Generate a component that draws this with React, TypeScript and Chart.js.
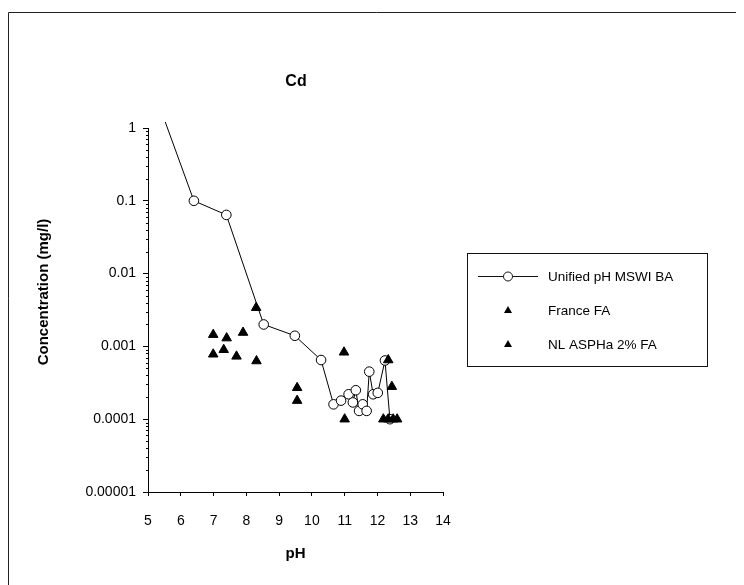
import React, { useEffect, useRef } from "react";
import { Chart, registerables } from "chart.js";

Chart.register(...registerables);

// Cd leaching concentration versus pH
const unifiedPH = [5.35, 6.4, 7.39, 8.53, 9.48, 10.28, 10.66, 10.89, 11.12, 11.25, 11.34, 11.44, 11.55, 11.67, 11.75, 11.87, 12.01, 12.23, 12.38];
const unifiedConc = [2.0, 0.1, 0.064, 0.002, 0.0014, 0.00065, 0.00016, 0.00018, 0.00022, 0.00017, 0.00025, 0.00013, 0.00016, 0.00013, 0.00045, 0.00022, 0.00023, 0.00064, 0.0001];

const francePH = [6.99, 7.4, 7.9, 7.31, 6.99, 7.7, 8.31, 8.3];
const franceConc = [0.00145, 0.0013, 0.00155, 0.0009, 0.00078, 0.00073, 0.00063, 0.0034];

const nlPH = [9.55, 9.55, 10.98, 11.0, 12.33, 12.44, 12.18, 12.33, 12.48, 12.6];
const nlConc = [0.00027, 0.00018, 0.00083, 0.0001, 0.00065, 0.00028, 0.0001, 0.0001, 0.0001, 0.0001];

const seriesNames = ["Unified pH MSWI BA", "France FA", "NL ASPHa 2% FA"];
const yTickValues = [0.00001, 0.0001, 0.001, 0.01, 0.1, 1];
const yTickLabels = ["0.00001", "0.0001", "0.001", "0.01", "0.1", "1"];
const xTickValues = [5, 6, 7, 8, 9, 10, 11, 12, 13, 14];

const chartTitle = "Cd";
const xTitle = "pH";
const yTitle = "Concentration (mg/l)";

const FONT = "'Liberation Sans', Arial, sans-serif";
const W = 736;
const H = 577;

const toPoints = (xs: number[], ys: number[]) => xs.map((x, i) => ({ x, y: ys[i] }));

// Frame, titles, minor ticks and the boxed legend drawn directly on the canvas
const decorations = {
  id: "decorations",
  afterDraw(chart: any) {
    const ctx = chart.ctx as CanvasRenderingContext2D;
    const area = chart.chartArea;
    const yScale = chart.scales.y;
    ctx.save();

    // outer frame
    ctx.strokeStyle = "#222";
    ctx.lineWidth = 1;
    ctx.beginPath();
    ctx.moveTo(0.5, H);
    ctx.lineTo(0.5, 4.5);
    ctx.lineTo(W, 4.5);
    ctx.stroke();

    // minor ticks on the log axis
    ctx.strokeStyle = "#000";
    ctx.beginPath();
    for (let e = -5; e < 0; e++) {
      for (let m = 2; m <= 9; m++) {
        const py = Math.round(yScale.getPixelForValue(m * Math.pow(10, e))) + 0.5;
        ctx.moveTo(area.left - 2, py);
        ctx.lineTo(area.left, py);
      }
    }
    ctx.stroke();

    ctx.fillStyle = "#000";
    ctx.textAlign = "center";
    ctx.textBaseline = "middle";

    ctx.font = `bold 16px ${FONT}`;
    ctx.fillText(chartTitle, 288, 74);

    ctx.font = `bold 15px ${FONT}`;
    ctx.fillText(xTitle, (area.left + area.right) / 2, 546);

    ctx.save();
    ctx.translate(36, (area.top + area.bottom) / 2 - 18);
    ctx.rotate(-Math.PI / 2);
    ctx.fillText(yTitle, 0, 0);
    ctx.restore();

    // legend
    const lx = 459.5, ly = 245.5, lw = 240, lh = 113;
    ctx.strokeStyle = "#111";
    ctx.strokeRect(lx, ly, lw, lh);
    const rows = [268, 302, 336];
    const sampleX = 500;
    ctx.font = `13.5px ${FONT}`;
    ctx.textAlign = "left";
    rows.forEach((ry, i) => {
      if (i === 0) {
        ctx.beginPath();
        ctx.moveTo(470, ry + 0.5);
        ctx.lineTo(530, ry + 0.5);
        ctx.stroke();
        ctx.beginPath();
        ctx.arc(sampleX, ry + 0.5, 4.5, 0, Math.PI * 2);
        ctx.fillStyle = "#fff";
        ctx.fill();
        ctx.stroke();
      } else {
        ctx.fillStyle = "#000";
        ctx.beginPath();
        ctx.moveTo(sampleX, ry - 4);
        ctx.lineTo(sampleX + 4, ry + 3);
        ctx.lineTo(sampleX - 4, ry + 3);
        ctx.closePath();
        ctx.fill();
      }
      ctx.fillStyle = "#000";
      ctx.fillText(seriesNames[i], 540, ry + 1);
    });
    ctx.restore();
  },
};

export default function App() {
  const ref = useRef<HTMLCanvasElement | null>(null);

  useEffect(() => {
    if (!ref.current) return;
    const chart = new Chart(ref.current, {
      type: "scatter",
      data: {
        datasets: [
          {
            label: seriesNames[2],
            data: toPoints(nlPH, nlConc),
            pointStyle: "triangle",
            pointRadius: 5.5,
            backgroundColor: "#000",
            borderColor: "#000",
            borderWidth: 1,
            showLine: false,
          },
          {
            label: seriesNames[1],
            data: toPoints(francePH, franceConc),
            pointStyle: "triangle",
            pointRadius: 5.5,
            backgroundColor: "#000",
            borderColor: "#000",
            borderWidth: 1,
            showLine: false,
          },
          {
            label: seriesNames[0],
            data: toPoints(unifiedPH, unifiedConc),
            showLine: true,
            borderColor: "#000",
            borderWidth: 1,
            pointStyle: "circle",
            pointRadius: 4.8,
            pointBackgroundColor: "#fff",
            pointBorderColor: "#000",
            pointBorderWidth: 1,
            tension: 0,
            clip: { left: 0, top: 6, right: 0, bottom: 0 },
          },
        ],
      },
      options: {
        responsive: false,
        animation: false,
        layout: { padding: { top: 120, right: W - 435, bottom: 0, left: 0 } },
        plugins: {
          legend: { display: false },
          title: { display: false },
          tooltip: { enabled: false },
        },
        scales: {
          x: {
            type: "linear",
            min: 5,
            max: 14,
            afterBuildTicks: (scale: any) => {
              scale.ticks = xTickValues.map((value) => ({ value }));
            },
            afterFit: (scale: any) => {
              scale.height = H - 484;
            },
            border: { display: true, color: "#000", width: 1 },
            grid: { display: true, drawOnChartArea: false, drawTicks: true, tickLength: 4, color: "#000" },
            ticks: {
              color: "#000",
              font: { family: FONT, size: 14 },
              padding: 17,
              maxRotation: 0,
            },
          },
          y: {
            type: "logarithmic",
            min: 0.00001,
            max: 1,
            afterBuildTicks: (scale: any) => {
              scale.ticks = yTickValues.map((value) => ({ value }));
            },
            afterFit: (scale: any) => {
              scale.width = 140;
            },
            border: { display: true, color: "#000", width: 1 },
            grid: { display: true, drawOnChartArea: false, drawTicks: true, tickLength: 5, color: "#000" },
            ticks: {
              color: "#000",
              font: { family: FONT, size: 14 },
              padding: 7,
              callback: (value: any) => {
                const idx = yTickValues.findIndex((v) => Math.abs(Math.log10(v) - Math.log10(Number(value))) < 1e-6);
                return idx >= 0 ? yTickLabels[idx] : "";
              },
            },
          },
        },
      },
      plugins: [decorations],
    });
    return () => chart.destroy();
  }, []);

  return (
    <div style={{ width: W, height: H, background: "#fff" }}>
      <canvas ref={ref} width={W} height={H} style={{ display: "block", width: W, height: H }} />
    </div>
  );
}
